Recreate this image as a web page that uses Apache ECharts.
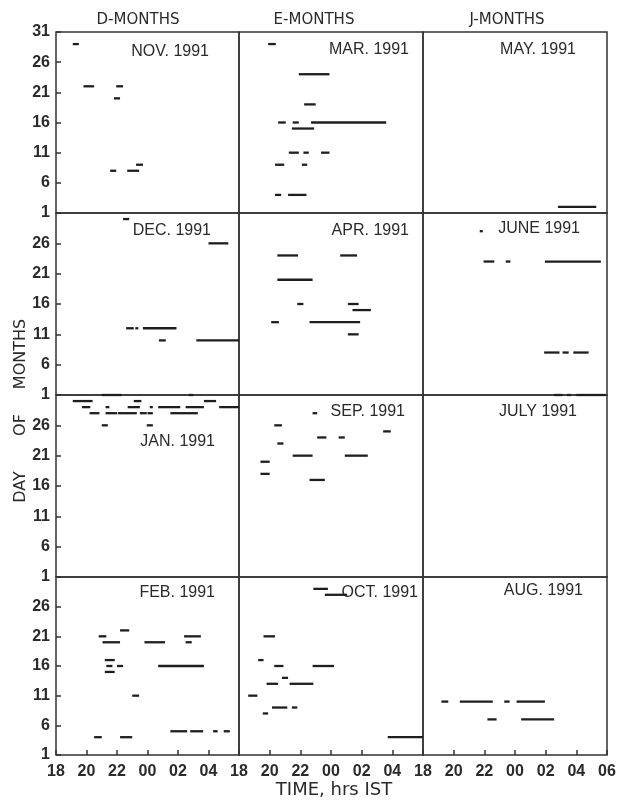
<!DOCTYPE html>
<html>
<head>
<meta charset="utf-8">
<script src="https://cdn.jsdelivr.net/npm/echarts@6/dist/echarts.min.js"></script>
<style>
  html, body { margin: 0; padding: 0; background: #fff; }
  #chart { width: 627px; height: 800px; }
</style>
</head>
<body>
<div id="chart"></div>
<script>
// Each event: [day of month, start, end], times in hours after 18:00 IST
const nov1991 = [[29,1.1,1.5],[22,1.8,2.5],[22,3.95,4.4],[20,3.8,4.2],[8,3.55,3.95],[8,4.67,5.45],[9,5.25,5.7]];
const mar1991 = [[29,1.9,2.4],[24,3.9,5.9],[19,4.25,5.0],[16,2.55,3.05],[16,3.5,3.9],[16,4.7,9.6],[15,3.45,4.9],
  [11,3.25,3.9],[11,4.2,4.55],[11,5.35,5.9],[9,2.35,2.95],[9,4.1,4.45],[4,2.35,2.75],[4,3.2,4.4]];
const may1991 = [[2,8.8,11.3]];
const dec1991 = [[30,4.4,4.8],[26,10.0,11.3],[12,4.6,5.1],[12,5.2,5.4],[12,5.7,7.9],[10,6.75,7.2],[10,9.2,12]];
const apr1991 = [[24,2.5,3.85],[24,6.6,7.7],[20,2.5,4.8],[16,3.8,4.2],[16,7.1,7.8],[15,7.4,8.6],
  [13,2.1,2.6],[13,4.6,7.9],[11,7.1,7.8]];
const jun1991 = [[28,3.7,3.9],[23,3.95,4.65],[23,5.4,5.7],[23,7.95,11.6],[8,7.9,8.9],[8,9.1,9.5],[8,9.8,10.8]];
const jan1991 = [[31,3.0,4.3],[31,8.7,9.0],[30,1.1,2.4],[30,5.1,5.6],[30,9.7,10.5],
  [29,1.7,2.25],[29,3.25,3.5],[29,4.7,5.5],[29,6.15,6.35],[29,6.7,8.15],[29,8.5,9.7],[29,10.7,12],
  [28,2.2,2.85],[28,3.25,4.0],[28,4.05,5.3],[28,5.5,5.95],[28,6.0,6.35],[28,7.5,9.3],
  [26,3.0,3.4],[26,5.95,6.35]];
const sep1991 = [[28,4.8,5.1],[26,2.3,2.8],[25,9.4,9.9],[24,5.1,5.7],[24,6.5,6.9],[23,2.5,2.9],
  [21,3.5,4.8],[21,6.9,8.4],[20,1.4,2.0],[18,1.4,2.0],[17,4.6,5.6]];
const jul1991 = [[31,8.55,9.1],[31,9.4,9.65],[31,10.0,11.9]];
const feb1991 = [[22,4.2,4.8],[21,2.8,3.3],[21,8.4,9.5],[20,3.05,4.2],[20,5.8,7.15],[20,8.5,8.9],
  [17,3.2,3.85],[16,3.3,3.7],[16,4.0,4.4],[16,6.7,9.7],[15,3.2,3.85],[11,5.0,5.45],
  [5,7.5,8.6],[5,8.8,9.65],[5,10.3,10.6],[5,11.0,11.4],[4,2.5,3.0],[4,4.2,5.0]];
const oct1991 = [[29,4.85,5.8],[28,5.6,7.05],[21,1.6,2.35],[17,1.25,1.6],[16,2.3,2.9],[16,4.8,6.2],
  [14,2.8,3.2],[13,1.8,2.55],[13,3.3,4.85],[11,0.6,1.2],[9,2.15,3.15],[9,3.45,3.8],[8,1.55,1.9],[4,9.7,12]];
const aug1991 = [[10,1.2,1.65],[10,2.4,4.55],[10,5.3,5.65],[10,6.1,7.95],[7,4.2,4.8],[7,6.4,8.55]];

const hourTicks = ['18','20','22','00','02','04','06'];
const columnHeads = ['D-MONTHS', 'E-MONTHS', 'J-MONTHS'];

// panels row by row, left to right
const panelNames = ['NOV. 1991','MAR. 1991','MAY. 1991',
                    'DEC. 1991','APR. 1991','JUNE 1991',
                    'JAN. 1991','SEP. 1991','JULY 1991',
                    'FEB. 1991','OCT. 1991','AUG. 1991'];
const panelData = [nov1991, mar1991, may1991,
                   dec1991, apr1991, jun1991,
                   jan1991, sep1991, jul1991,
                   feb1991, oct1991, aug1991];

// layout (pixels)
const colX = [56, 239, 423, 607];
const rowY = [32, 213, 395, 577, 755];
const nameAnchor = [[209,52],[409,50],[576,50],[211,231],[409,231],[580,229],
                    [215,442],[405,412],[577,412],[215,593],[418,593],[583,591]];
const headCenter = [138, 314, 507];

const FONT = 'Liberation Sans';
const INK = '#1e1e1e';
const TXT = '#2a2a2a';

const grids = [], xAxes = [], yAxes = [], series = [], graphics = [];

for (let i = 0; i < 12; i++) {
  const r = Math.floor(i / 3), c = i % 3;
  grids.push({
    left: colX[c], top: rowY[r],
    width: colX[c + 1] - colX[c], height: rowY[r + 1] - rowY[r],
    show: true, borderColor: '#333', borderWidth: 1.5, backgroundColor: 'transparent'
  });
  xAxes.push({
    gridIndex: i, type: 'value', min: 0, max: 12, interval: 2,
    axisLine: { show: false },
    axisTick: { show: r === 3, inside: true, length: 5, lineStyle: { color: '#333', width: 1.5 } },
    axisLabel: {
      show: r === 3, showMaxLabel: c === 2, showMinLabel: true, margin: 9,
      fontFamily: FONT, fontSize: 16, fontWeight: 'bold', color: TXT,
      formatter: v => hourTicks[Math.round(v / 2)]
    },
    splitLine: { show: false }
  });
  yAxes.push({
    gridIndex: i, type: 'value', min: 1, max: 31, interval: 5,
    axisLine: { show: false },
    axisTick: { show: c === 0, inside: true, length: 5, lineStyle: { color: '#333', width: 1.5 } },
    axisLabel: {
      show: c === 0, showMaxLabel: r === 0, showMinLabel: true, margin: 6,
      fontFamily: FONT, fontSize: 16, fontWeight: 'bold', color: TXT
    },
    splitLine: { show: false }
  });
  series.push({
    type: 'custom', xAxisIndex: i, yAxisIndex: i,
    data: panelData[i], clip: false,
    encode: { x: [1, 2], y: 0 },
    renderItem: (params, api) => {
      const a = api.coord([api.value(1), api.value(0)]);
      const b = api.coord([api.value(2), api.value(0)]);
      return { type: 'line', shape: { x1: a[0], y1: a[1], x2: b[0], y2: b[1] },
               style: { stroke: INK, lineWidth: 2.3, lineCap: 'butt' } };
    }
  });
  graphics.push({
    type: 'text', x: nameAnchor[i][0], y: nameAnchor[i][1],
    style: { text: panelNames[i], align: 'right', verticalAlign: 'middle',
             font: '16px "Liberation Sans"', fill: TXT }
  });
}

columnHeads.forEach((t, c) => {
  graphics.push({
    type: 'text', x: headCenter[c], y: 20,
    style: { text: t, align: 'center', verticalAlign: 'middle',
             font: '15px "DejaVu Sans"', fill: TXT }
  });
});

graphics.push({
  type: 'text', x: 334, y: 790,
  style: { text: 'TIME, hrs IST', align: 'center', verticalAlign: 'middle',
           font: '18px "DejaVu Sans"', fill: TXT }
});

// vertical axis title, spread along the left margin
[['MONTHS', 354], ['OF', 425], ['DAY', 487]].forEach(([t, y]) => {
  graphics.push({
    type: 'text', x: 21, y: y, rotation: Math.PI / 2,
    style: { text: t, align: 'center', verticalAlign: 'middle',
             font: '16px "DejaVu Sans"', fill: TXT }
  });
});

const chart = echarts.init(document.getElementById('chart'), null, { renderer: 'canvas' });
chart.setOption({
  animation: false,
  backgroundColor: '#fff',
  grid: grids, xAxis: xAxes, yAxis: yAxes, series: series,
  graphic: graphics
});
</script>
</body>
</html>
